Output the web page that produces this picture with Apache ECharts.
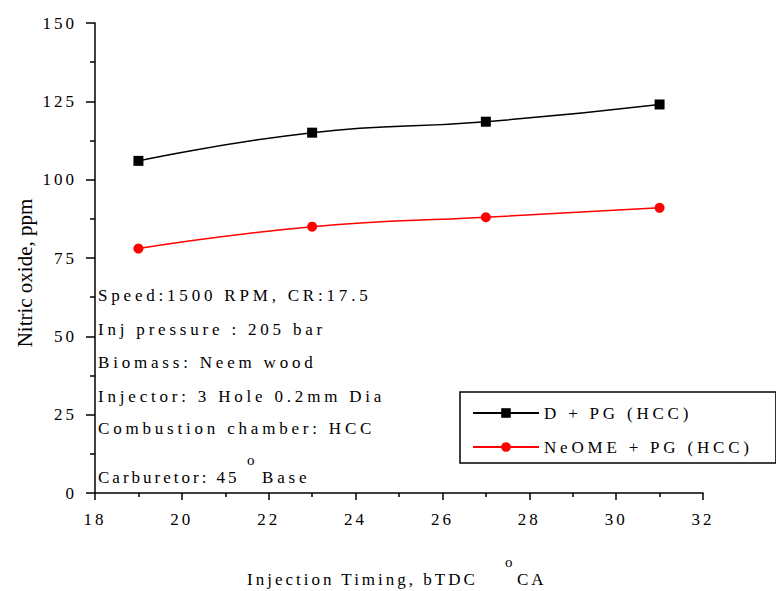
<!DOCTYPE html>
<html>
<head>
<meta charset="utf-8">
<script src="https://cdn.jsdelivr.net/npm/echarts@6/dist/echarts.min.js"></script>
<style>
  html, body { margin: 0; padding: 0; background: #fff; }
  #main { width: 776px; height: 591px; }
  /* the original is drawn with widely spaced serif text */
  #main svg text { letter-spacing: 3px; }
  #main svg text[style*="Tinos"] { letter-spacing: 3.8px; }
  #main svg text[style*="21px"] { letter-spacing: 0; }
</style>
</head>
<body>
<div id="main"></div>
<script>
// injection timing, bTDC (deg CA)
const timing = [19, 23, 27, 31];
// nitric oxide, ppm
const dieselPG = [106, 115, 118.5, 124];
const neomePG = [78, 85, 88, 91];
const seriesNames = ["D + PG (HCC)", "NeOME + PG (HCC)"];
const notes = [
  "Speed:1500 RPM, CR:17.5",
  "Inj pressure : 205 bar",
  "Biomass: Neem wood",
  "Injector: 3 Hole 0.2mm Dia",
  "Combustion chamber: HCC"
];

const FONT = "'Liberation Serif', serif";
// same face, used for the more widely spaced texts (notes, legend)
const FONT_WIDE = "'Liberation Serif', Tinos, serif";
const noteY = [295, 329, 362, 396, 428];

const chart = echarts.init(document.getElementById("main"), null, { renderer: "svg" });

const graphics = notes.map((t, i) => ({
  type: "text",
  x: 98,
  y: noteY[i],
  style: { text: t, fontSize: 17, fontFamily: FONT_WIDE, fill: "#000", align: "left", verticalAlign: "middle" }
}));
graphics.push(
  { type: "text", x: 98, y: 477, style: { text: "Carburetor: 45", fontSize: 17, fontFamily: FONT, fill: "#000", verticalAlign: "middle" } },
  { type: "text", x: 247, y: 460, style: { text: "o", fontSize: 15, fontFamily: FONT, fill: "#000", verticalAlign: "middle" } },
  { type: "text", x: 262, y: 477, style: { text: "Base", fontSize: 17, fontFamily: FONT_WIDE, fill: "#000", verticalAlign: "middle" } },
  // x axis title
  { type: "text", x: 247, y: 579, style: { text: "Injection Timing, bTDC", fontSize: 17, fontFamily: FONT, fill: "#000", verticalAlign: "middle" } },
  { type: "text", x: 505, y: 562, style: { text: "o", fontSize: 15, fontFamily: FONT, fill: "#000", verticalAlign: "middle" } },
  { type: "text", x: 517, y: 579, style: { text: "CA", fontSize: 17, fontFamily: FONT, fill: "#000", verticalAlign: "middle" } },
  // y axis title
  {
    type: "text", x: 25, y: 273, rotation: Math.PI / 2,
    style: { text: "Nitric oxide, ppm", fontSize: 21, fontFamily: FONT, fill: "#000", align: "center", verticalAlign: "middle" }
  }
);

const axisCommon = {
  axisLine: { show: true, lineStyle: { color: "#000", width: 1.5 } },
  axisTick: { show: true, inside: false, lineStyle: { color: "#000", width: 1.5 } },
  minorTick: { show: true, splitNumber: 2, lineStyle: { color: "#000", width: 1.5 } },
  splitLine: { show: false },
  axisLabel: { color: "#000", fontSize: 17, fontFamily: FONT }
};

chart.setOption({
  animation: false,
  backgroundColor: "#fff",
  grid: { left: 95, right: 73, top: 23, bottom: 98 },
  xAxis: Object.assign({}, axisCommon, {
    type: "value",
    min: 18,
    max: 32,
    interval: 2,
    axisTick: Object.assign({}, axisCommon.axisTick, { length: 7 }),
    minorTick: Object.assign({}, axisCommon.minorTick, { length: 4 }),
    axisLabel: Object.assign({}, axisCommon.axisLabel, { margin: 18 })
  }),
  yAxis: Object.assign({}, axisCommon, {
    type: "value",
    min: 0,
    max: 150,
    interval: 25,
    axisTick: Object.assign({}, axisCommon.axisTick, { length: 9 }),
    minorTick: Object.assign({}, axisCommon.minorTick, { length: 5 }),
    axisLabel: Object.assign({}, axisCommon.axisLabel, { margin: 18 })
  }),
  legend: {
    orient: "vertical",
    left: 460,
    top: 392,
    itemWidth: 66,
    itemHeight: 12,
    itemGap: 16,
    padding: [12, 84, 7, 12],
    borderColor: "#000",
    borderWidth: 1.5,
    textStyle: { color: "#000", fontSize: 17, fontFamily: FONT_WIDE, lineHeight: 18 },
    data: seriesNames
  },
  graphic: graphics,
  series: [
    {
      name: seriesNames[0],
      type: "line",
      smooth: true,
      data: timing.map((x, i) => [x, dieselPG[i]]),
      symbol: "rect",
      symbolSize: 10,
      itemStyle: { color: "#000" },
      lineStyle: { color: "#000", width: 1.5 }
    },
    {
      name: seriesNames[1],
      type: "line",
      smooth: true,
      data: timing.map((x, i) => [x, neomePG[i]]),
      symbol: "circle",
      symbolSize: 10,
      itemStyle: { color: "#ff0000" },
      lineStyle: { color: "#ff0000", width: 1.5 }
    }
  ]
});
</script>
</body>
</html>
